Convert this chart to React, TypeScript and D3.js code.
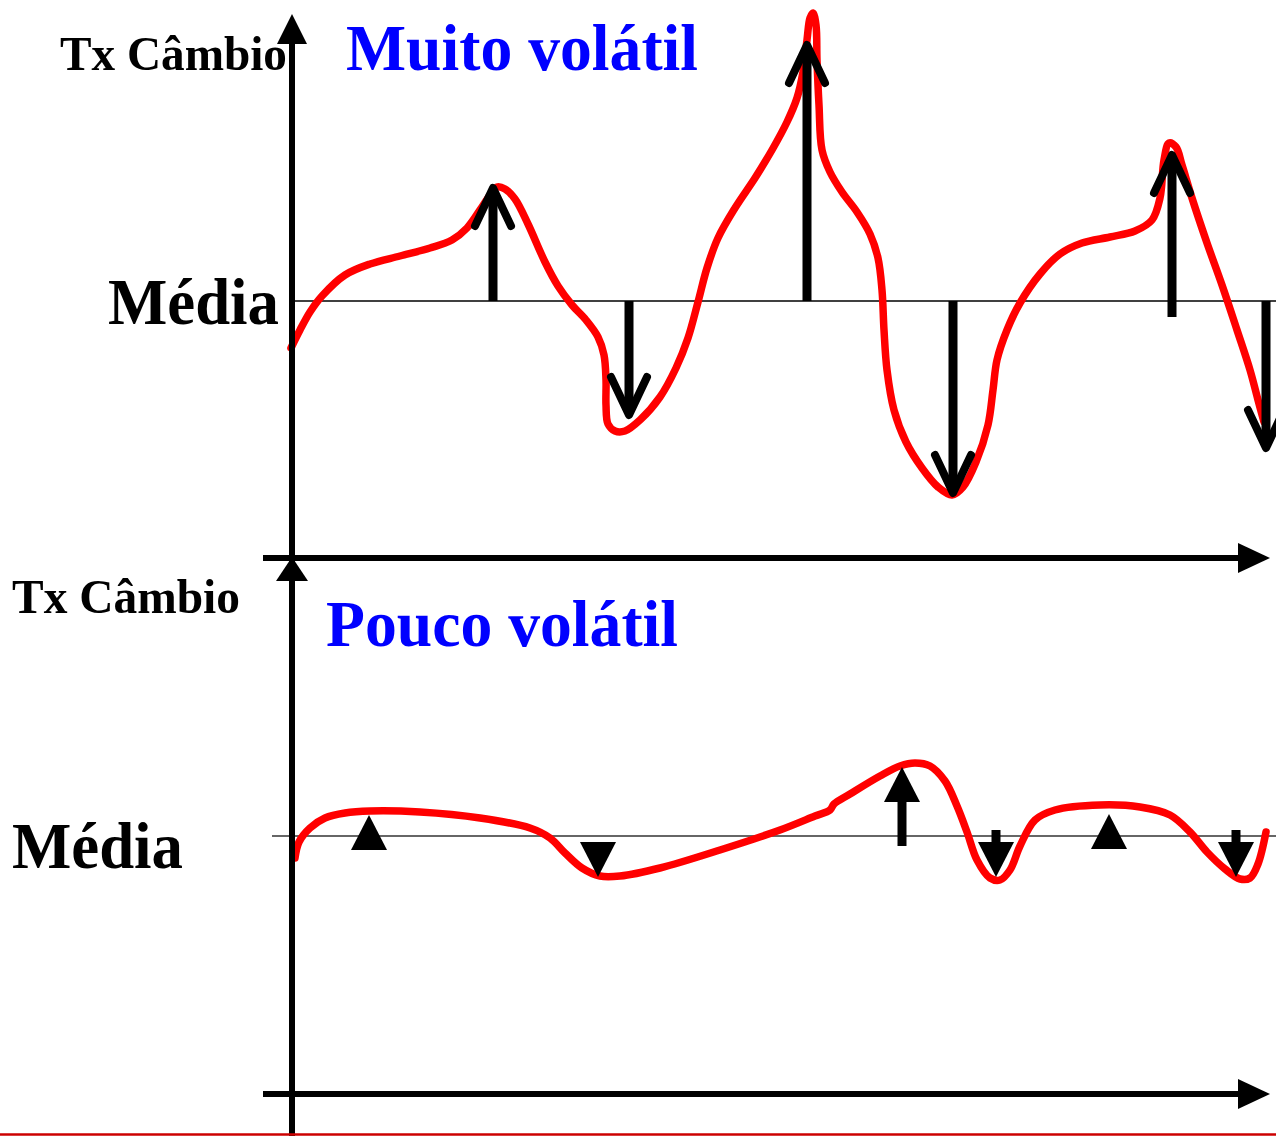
import React from "react";
import * as d3 from "d3";

// ---------- data (t = time along the axis, v = deviation from the mean) ----------
const topCurve: [number, number][] = [
  [-1, -47], [8, -29], [18, -11], [30, 5], [53, 26], [78, 37], [108, 45], [138, 53],
  [160, 61], [175, 73], [188, 91], [198, 106], [205, 114], [213, 112], [223, 102],
  [236, 77], [253, 39], [266, 15], [280, -4], [294, -19], [306, -36], [312, -54],
  [314, -79], [314, -104], [316, -123], [323, -130], [333, -130], [348, -119],
  [368, -96], [384, -67], [396, -37], [406, -1], [415, 33], [426, 63], [443, 93],
  [463, 123], [480, 151], [495, 179], [505, 203], [511, 229], [515, 261], [518, 283],
  [521, 288], [524, 276], [525, 241], [527, 196], [530, 151], [538, 129], [550, 109],
  [565, 89], [578, 67], [586, 43], [590, 11], [592, -29], [595, -69], [602, -109],
  [614, -141], [630, -167], [646, -186], [660, -194], [671, -186], [684, -161],
  [696, -124], [701, -89], [705, -59], [715, -29], [728, -2], [748, 27], [768, 47],
  [790, 58], [818, 64], [843, 70], [860, 81], [868, 103], [872, 141], [877, 158],
  [884, 154], [890, 136], [900, 103], [915, 58], [930, 16], [945, -29], [958, -69],
  [966, -99], [972, -121],
];

const bottomCurve: [number, number][] = [
  [3, -22], [7, -6], [18, 8], [33, 18], [53, 23], [78, 25], [128, 24], [188, 18],
  [238, 8], [258, -2], [273, -17], [290, -32], [308, -40], [328, -40], [368, -32],
  [428, -14], [488, 6], [523, 20], [538, 26], [542, 32], [558, 42], [588, 60],
  [608, 70], [623, 73], [638, 70], [653, 55], [665, 30], [675, 4], [685, -24],
  [698, -42], [708, -44], [718, -34], [728, -10], [743, 16], [763, 26], [808, 31],
  [848, 29], [878, 21], [898, 4], [915, -16], [933, -33], [948, -43], [958, -42],
  [966, -28], [974, 4],
];

// top panel deviation arrows: position, start value, tip value
const topArrowT = [201, 337, 515, 661, 880, 974];
const topArrowFrom = [0, 0, 0, 0, -16, 0];
const topArrowTip = [113, -114, 256, -192, 146, -147];

// bottom panel markers: position, kind, tip value, shaft start value
const bottomMarkT = [77, 306, 610, 704, 817, 944];
const bottomMarkKind = ["tri", "tri", "arrow", "arrow", "tri", "arrow"];
const bottomMarkTip = [21, -41, 69, -41, 22, -41];
const bottomMarkFrom = [0, 0, -10, 6, 0, 6];

const titles = ["Muito volátil", "Pouco volátil"];
const axisLabel = "Tx Câmbio";
const meanLabel = "Média";

// ---------- layout ----------
const W = 1276;
const H = 1136;
const AX = 292; // y-axis x position
const FONT = "'Liberation Serif', 'Times New Roman', serif";

const x = d3.scaleLinear().domain([0, 978]).range([AX, AX + 978]);
const yTop = d3.scaleLinear().domain([-257, 287]).range([558, 14]);
const yBot = d3.scaleLinear().domain([-258, 276]).range([1094, 560]);

const lineTop = d3
  .line<[number, number]>()
  .x((d) => x(d[0]))
  .y((d) => yTop(d[1]))
  .curve(d3.curveCatmullRom.alpha(0.5));
const lineBot = d3
  .line<[number, number]>()
  .x((d) => x(d[0]))
  .y((d) => yBot(d[1]))
  .curve(d3.curveCatmullRom.alpha(0.5));

function Chevron({ cx, tipY, dir }: { cx: number; tipY: number; dir: number }) {
  // dir: -1 pointing up, +1 pointing down
  const back = tipY - dir * 38;
  return (
    <polyline
      points={`${cx - 18},${back} ${cx},${tipY} ${cx + 18},${back}`}
      fill="none"
      stroke="#000"
      strokeWidth={8}
      strokeLinecap="round"
      strokeLinejoin="round"
    />
  );
}

export default function App() {
  return (
    <svg
      width={W}
      height={H}
      viewBox={`0 0 ${W} ${H}`}
      style={{ position: "absolute", left: 0, top: 0, background: "#fff" }}
    >
      <rect x={0} y={0} width={W} height={H} fill="#fff" />

      {/* mean lines */}
      <line x1={AX} x2={W} y1={yTop(0)} y2={yTop(0)} stroke="#000" strokeWidth={1.5} />
      <line x1={272} x2={W} y1={yBot(0)} y2={yBot(0)} stroke="#333" strokeWidth={1.5} />

      {/* red curves */}
      <path d={lineTop(topCurve) || ""} fill="none" stroke="#ff0000" strokeWidth={7.5} strokeLinejoin="round" strokeLinecap="round" />
      <path d={lineBot(bottomCurve) || ""} fill="none" stroke="#ff0000" strokeWidth={7.5} strokeLinejoin="round" strokeLinecap="round" />

      {/* top deviation arrows */}
      {topArrowT.map((t, i) => {
        const cx = x(t);
        const y0 = yTop(topArrowFrom[i]);
        const y1 = yTop(topArrowTip[i]);
        const dir = y1 < y0 ? -1 : 1;
        return (
          <g key={i}>
            <line x1={cx} x2={cx} y1={y0} y2={y1 - dir * 2} stroke="#000" strokeWidth={9} />
            <Chevron cx={cx} tipY={y1} dir={dir} />
          </g>
        );
      })}

      {/* bottom markers */}
      {bottomMarkT.map((t, i) => {
        const cx = x(t);
        const tip = yBot(bottomMarkTip[i]);
        const dir = bottomMarkTip[i] > 0 ? -1 : 1;
        const base = tip - dir * 35;
        const tri = (
          <polygon points={`${cx - 18},${base} ${cx},${tip} ${cx + 18},${base}`} fill="#000" />
        );
        if (bottomMarkKind[i] === "tri") return <g key={i}>{tri}</g>;
        const s0 = yBot(bottomMarkFrom[i]);
        return (
          <g key={i}>
            <line x1={cx} x2={cx} y1={s0} y2={base} stroke="#000" strokeWidth={9} />
            {tri}
          </g>
        );
      })}

      {/* axes */}
      <line x1={AX} x2={AX} y1={40} y2={H} stroke="#000" strokeWidth={6} />
      <polygon points={`${AX - 15},44 ${AX},14 ${AX + 15},44`} fill="#000" />
      <line x1={263} x2={1240} y1={558} y2={558} stroke="#000" strokeWidth={6} />
      <polygon points={`1238,543 1270,558 1238,573`} fill="#000" />
      <polygon points={`${AX - 16},581 ${AX},557 ${AX + 16},581`} fill="#000" />
      <line x1={263} x2={1240} y1={1094} y2={1094} stroke="#000" strokeWidth={6} />
      <polygon points={`1238,1079 1270,1094 1238,1109`} fill="#000" />

      {/* bottom red rule */}
      <line x1={0} x2={W} y1={1134.5} y2={1134.5} stroke="#cc0000" strokeWidth={2.5} />

      {/* texts */}
      <g fontFamily={FONT} fontWeight="bold">
        <text x={60} y={70} fontSize={49} fill="#000" textLength={227} lengthAdjust="spacingAndGlyphs">{axisLabel}</text>
        <text x={346} y={70} fontSize={65} fill="#0000ff" textLength={352} lengthAdjust="spacingAndGlyphs">{titles[0]}</text>
        <text x={108} y={324} fontSize={65} fill="#000" textLength={171} lengthAdjust="spacingAndGlyphs">{meanLabel}</text>
        <text x={12} y={613} fontSize={49} fill="#000" textLength={228} lengthAdjust="spacingAndGlyphs">{axisLabel}</text>
        <text x={326} y={646} fontSize={65} fill="#0000ff" textLength={352} lengthAdjust="spacingAndGlyphs">{titles[1]}</text>
        <text x={12} y={868} fontSize={65} fill="#000" textLength={171} lengthAdjust="spacingAndGlyphs">{meanLabel}</text>
      </g>
    </svg>
  );
}
